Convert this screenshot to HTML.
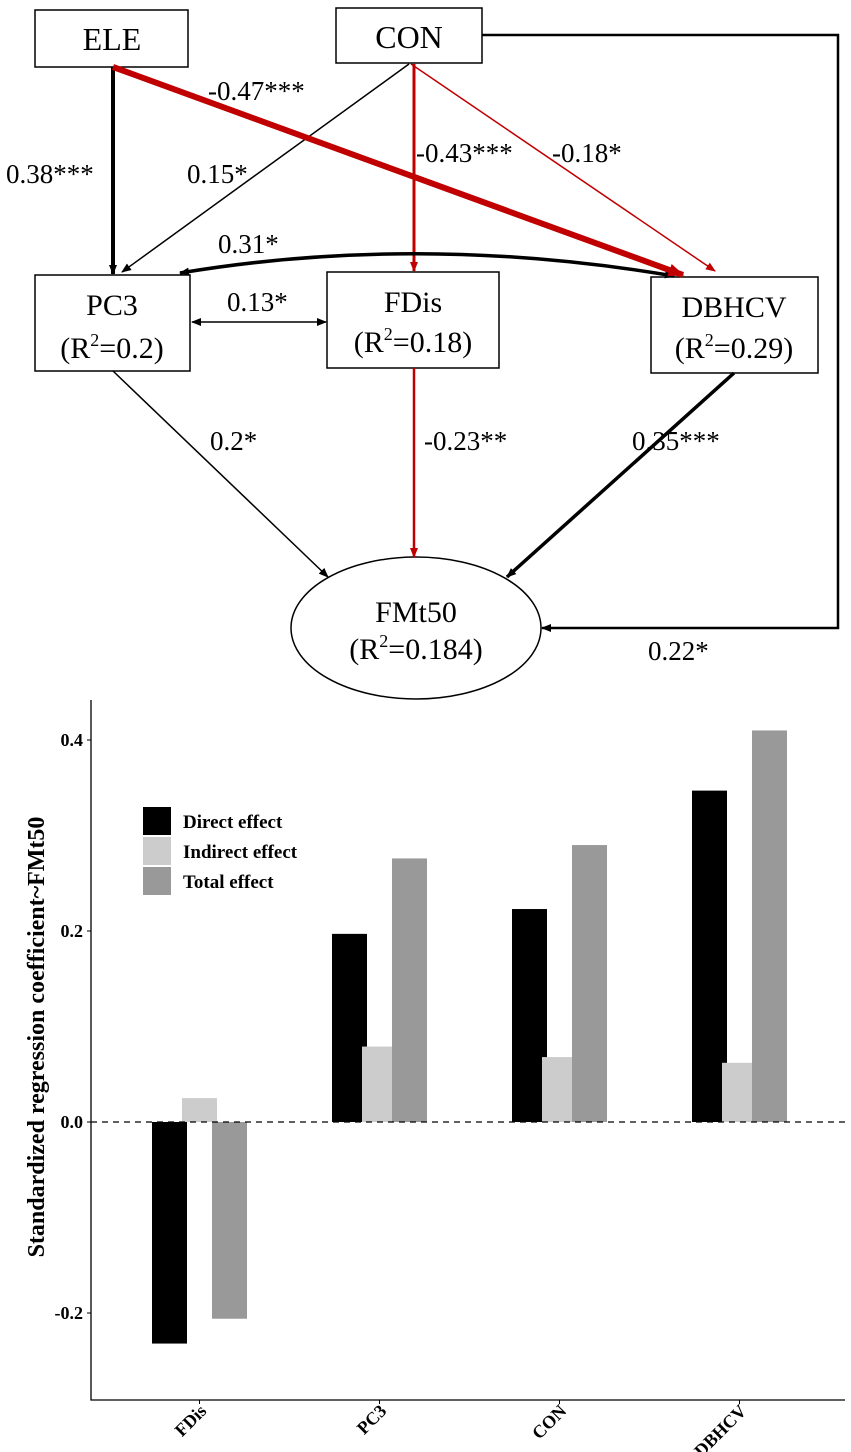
<!DOCTYPE html>
<html><head><meta charset="utf-8"><style>
body{margin:0;background:#fff;width:851px;height:1452px;overflow:hidden}
svg{display:block}
.t{font-family:"Liberation Serif",serif}
</style></head><body>
<svg id="root" width="851" height="1452">
<defs>
<marker id="abk" viewBox="0 0 10 10" refX="9" refY="5" markerWidth="10" markerHeight="10" orient="auto-start-reverse" markerUnits="userSpaceOnUse"><path d="M0,1L10,5L0,9z" fill="#000"/></marker>
<marker id="ar" viewBox="0 0 10 10" refX="9" refY="5" markerWidth="10" markerHeight="10" orient="auto" markerUnits="userSpaceOnUse"><path d="M0,1L10,5L0,9z" fill="#c00000"/></marker>
<marker id="arb" viewBox="0 0 10 10" refX="9" refY="5" markerWidth="16" markerHeight="16" orient="auto" markerUnits="userSpaceOnUse"><path d="M0,1L10,5L0,9z" fill="#c00000"/></marker>
</defs>
<g class="t">
<g><rect x="35" y="10" width="153" height="57" fill="#fff" stroke="#000" stroke-width="1.5"/><text x="112" y="50" font-size="32" text-anchor="middle">ELE</text></g>
<g><rect x="336" y="8" width="146" height="55" fill="#fff" stroke="#000" stroke-width="1.5"/><text x="409" y="48" font-size="32" text-anchor="middle">CON</text></g>
<g><rect x="35" y="275" width="155" height="96" fill="#fff" stroke="#000" stroke-width="1.5"/><text x="112" y="315" font-size="30" text-anchor="middle">PC3</text><text x="112" y="358" font-size="30" text-anchor="middle">(R<tspan font-size="18" dy="-12">2</tspan><tspan dy="12">=0.2)</tspan></text></g>
<g><rect x="327" y="272" width="172" height="96" fill="#fff" stroke="#000" stroke-width="1.5"/><text x="413" y="312" font-size="30" text-anchor="middle">FDis</text><text x="413" y="352" font-size="30" text-anchor="middle">(R<tspan font-size="18" dy="-12">2</tspan><tspan dy="12">=0.18)</tspan></text></g>
<g><rect x="651" y="277" width="167" height="96" fill="#fff" stroke="#000" stroke-width="1.5"/><text x="734" y="317" font-size="30" text-anchor="middle">DBHCV</text><text x="734" y="358" font-size="30" text-anchor="middle">(R<tspan font-size="18" dy="-12">2</tspan><tspan dy="12">=0.29)</tspan></text></g>
<g><ellipse cx="416" cy="628" rx="125" ry="71" fill="#fff" stroke="#000" stroke-width="1.5"/><text x="416" y="622" font-size="30" text-anchor="middle">FMt50</text><text x="416" y="659" font-size="30" text-anchor="middle">(R<tspan font-size="18" dy="-12">2</tspan><tspan dy="12">=0.184)</tspan></text></g>

<line x1="113" y1="67" x2="113" y2="274" stroke="#000" stroke-width="4" marker-end="url(#abk)"/>
<line x1="409" y1="64" x2="122" y2="272" stroke="#000" stroke-width="1.5" marker-end="url(#abk)"/>
<line x1="414" y1="64" x2="414" y2="271" stroke="#c00000" stroke-width="3" marker-end="url(#ar)"/>
<line x1="411" y1="64" x2="715" y2="271" stroke="#c00000" stroke-width="1.5" marker-end="url(#ar)"/>
<path d="M180,273 Q420,233 674,276" fill="none" stroke="#000" stroke-width="3.5" marker-start="url(#abk)" marker-end="url(#abk)"/>
<line x1="113" y1="67" x2="683" y2="275" stroke="#c00000" stroke-width="6" marker-end="url(#arb)"/>
<line x1="192" y1="322" x2="326" y2="322" stroke="#000" stroke-width="1.5" marker-start="url(#abk)" marker-end="url(#abk)"/>
<line x1="113" y1="371" x2="328" y2="577" stroke="#000" stroke-width="1.5" marker-end="url(#abk)"/>
<line x1="414" y1="368" x2="414" y2="557" stroke="#c00000" stroke-width="2.5" marker-end="url(#ar)"/>
<line x1="734" y1="373" x2="507" y2="577" stroke="#000" stroke-width="3.5" marker-end="url(#abk)"/>
<polyline points="482,35 838,35 838,628 542,628" fill="none" stroke="#000" stroke-width="2.5" marker-end="url(#abk)"/>

<g font-size="27">
<text x="208" y="100">-0.47***</text>
<text x="6" y="183">0.38***</text>
<text x="187" y="183">0.15*</text>
<text x="416" y="162">-0.43***</text>
<text x="552" y="162">-0.18*</text>
<text x="218" y="253">0.31*</text>
<text x="227" y="311">0.13*</text>
<text x="210" y="450">0.2*</text>
<text x="424" y="450">-0.23**</text>
<text x="632" y="450">0.35***</text>
<text x="648" y="660">0.22*</text>
</g>
</g>
<g id="chart"></g>
</svg>
<script>
const categories=["FDis","PC3","CON","DBHCV"];
const directEffect=[-0.232,0.197,0.223,0.347];
const indirectEffect=[0.025,0.079,0.068,0.062];
const totalEffect=[-0.206,0.276,0.29,0.41];
const seriesNames=["Direct effect","Indirect effect","Total effect"];
const yTicks=[-0.2,0,0.2,0.4];
const yTickLabels=["-0.2","0.0","0.2","0.4"];
const NS="http://www.w3.org/2000/svg";
const g=document.getElementById('chart');
const colors=["#000","#cccccc","#999999"];
const x0=91,x1=845,yTop=700,yBot=1400;
function y(v){return 1122-v*955;}
function xc(i){return 199.5+i*180;}
function mk(t,a,p){const e=document.createElementNS(NS,t);for(const k in a)e.setAttribute(k,a[k]);(p||g).appendChild(e);return e;}
const series=[directEffect,indirectEffect,totalEffect];
series.forEach((s,si)=>{s.forEach((v,i)=>{
 const bx=xc(i)-47.5+si*30;
 const r=mk('rect',{x:bx,y:Math.min(y(v),y(0)),width:35,height:Math.abs(y(v)-y(0)),fill:colors[si]});
 
 
});});
const z=mk('line',{x1:x0,x2:x1,y1:y(0),y2:y(0),stroke:'#000','stroke-width':1.3,'stroke-dasharray':'6,5'});


const ax=mk('path',{d:`M${x0},${yTop}V${yBot}H${x1}`,fill:'none',stroke:'#000','stroke-width':1.3});


yTicks.forEach((v,i)=>{
 mk('line',{x1:x0-4,x2:x0,y1:y(v),y2:y(v),stroke:'#000'});
 const t=mk('text',{x:x0-8,y:y(v)+6,'text-anchor':'end','font-size':18,'font-weight':'bold','font-family':'Liberation Serif, serif'});
 t.textContent=yTickLabels[i];
 
 
});
categories.forEach((c,i)=>{
 mk('line',{x1:xc(i),x2:xc(i),y1:yBot,y2:yBot+4,stroke:'#000'});
 const t=mk('text',{transform:`translate(${xc(i)+8},${yBot+12}) rotate(-45)`,'text-anchor':'end','font-size':18,'font-weight':'bold','font-family':'Liberation Serif, serif'});
 t.textContent=c;
 
 
});
const yt=mk('text',{transform:'translate(44,1037) rotate(-90)','text-anchor':'middle','font-size':24,'font-weight':'bold','font-family':'Liberation Serif, serif'});
yt.textContent='Standardized regression coefficient~FMt50';


seriesNames.forEach((n,i)=>{
 const r=mk('rect',{x:143,y:807+i*30,width:28,height:28,fill:colors[i]});
 
 
 const t=mk('text',{x:183,y:828+i*30,'font-size':19,'font-weight':'bold','font-family':'Liberation Serif, serif'});
 t.textContent=n;
 
 
});
</script>
</body></html>
